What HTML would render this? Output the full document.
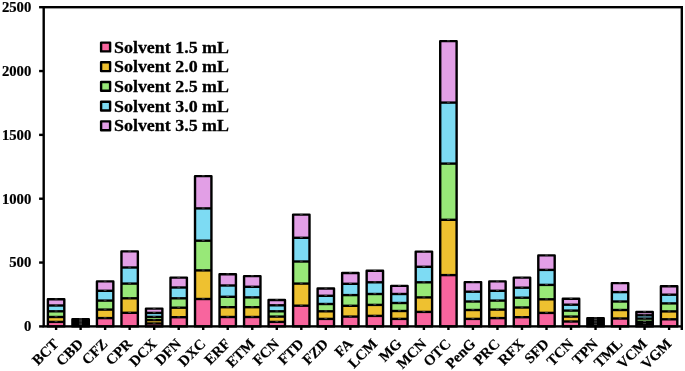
<!DOCTYPE html>
<html><head><meta charset="utf-8"><title>Chart</title>
<style>html,body{margin:0;padding:0;background:#fff}svg{display:block}text{font-family:"Liberation Serif","DejaVu Serif",serif;font-weight:bold;fill:#000}</style></head><body>
<svg width="685" height="371" viewBox="0 0 685 371">
<rect width="685" height="371" fill="#fff"/>
<rect x="47.90" y="299.30" width="16.40" height="6.20" fill="#E29FE6"/>
<rect x="47.90" y="305.50" width="16.40" height="5.80" fill="#7DDBF3"/>
<rect x="47.90" y="311.30" width="16.40" height="5.70" fill="#98E878"/>
<rect x="47.90" y="317.00" width="16.40" height="4.90" fill="#EEC130"/>
<rect x="47.90" y="321.90" width="16.40" height="4.50" fill="#F8659E"/>
<line x1="47.90" x2="64.30" y1="305.50" y2="305.50" stroke="#000" stroke-width="2.4"/>
<line x1="47.90" x2="64.30" y1="311.30" y2="311.30" stroke="#000" stroke-width="2.4"/>
<line x1="47.90" x2="64.30" y1="317.00" y2="317.00" stroke="#000" stroke-width="2.4"/>
<line x1="47.90" x2="64.30" y1="321.90" y2="321.90" stroke="#000" stroke-width="2.4"/>
<rect x="47.90" y="299.30" width="16.40" height="27.10" fill="none" stroke="#000" stroke-width="2.4" stroke-linejoin="round"/>
<line x1="54.70" x2="57.50" y1="299.00" y2="299.00" stroke="#888" stroke-width="0.5"/>
<line x1="54.70" x2="57.50" y1="305.20" y2="305.20" stroke="#888" stroke-width="0.5"/>
<line x1="54.70" x2="57.50" y1="311.00" y2="311.00" stroke="#888" stroke-width="0.5"/>
<line x1="54.70" x2="57.50" y1="316.70" y2="316.70" stroke="#888" stroke-width="0.5"/>
<line x1="54.70" x2="57.50" y1="321.60" y2="321.60" stroke="#888" stroke-width="0.5"/>
<rect x="72.42" y="319.20" width="16.40" height="1.44" fill="#E29FE6"/>
<rect x="72.42" y="320.64" width="16.40" height="1.44" fill="#7DDBF3"/>
<rect x="72.42" y="322.08" width="16.40" height="1.44" fill="#98E878"/>
<rect x="72.42" y="323.52" width="16.40" height="1.44" fill="#EEC130"/>
<rect x="72.42" y="324.96" width="16.40" height="1.44" fill="#F8659E"/>
<line x1="72.42" x2="88.82" y1="320.64" y2="320.64" stroke="#000" stroke-width="2.4"/>
<line x1="72.42" x2="88.82" y1="322.08" y2="322.08" stroke="#000" stroke-width="2.4"/>
<line x1="72.42" x2="88.82" y1="323.52" y2="323.52" stroke="#000" stroke-width="2.4"/>
<line x1="72.42" x2="88.82" y1="324.96" y2="324.96" stroke="#000" stroke-width="2.4"/>
<rect x="72.42" y="319.20" width="16.40" height="7.20" fill="none" stroke="#000" stroke-width="2.4" stroke-linejoin="round"/>
<line x1="79.22" x2="82.02" y1="318.90" y2="318.90" stroke="#888" stroke-width="0.5"/>
<line x1="79.22" x2="82.02" y1="320.34" y2="320.34" stroke="#888" stroke-width="0.5"/>
<line x1="79.22" x2="82.02" y1="321.78" y2="321.78" stroke="#888" stroke-width="0.5"/>
<line x1="79.22" x2="82.02" y1="323.22" y2="323.22" stroke="#888" stroke-width="0.5"/>
<line x1="79.22" x2="82.02" y1="324.66" y2="324.66" stroke="#888" stroke-width="0.5"/>
<rect x="96.94" y="281.40" width="16.40" height="9.40" fill="#E29FE6"/>
<rect x="96.94" y="290.80" width="16.40" height="9.80" fill="#7DDBF3"/>
<rect x="96.94" y="300.60" width="16.40" height="9.00" fill="#98E878"/>
<rect x="96.94" y="309.60" width="16.40" height="8.50" fill="#EEC130"/>
<rect x="96.94" y="318.10" width="16.40" height="8.30" fill="#F8659E"/>
<line x1="96.94" x2="113.34" y1="290.80" y2="290.80" stroke="#000" stroke-width="2.4"/>
<line x1="96.94" x2="113.34" y1="300.60" y2="300.60" stroke="#000" stroke-width="2.4"/>
<line x1="96.94" x2="113.34" y1="309.60" y2="309.60" stroke="#000" stroke-width="2.4"/>
<line x1="96.94" x2="113.34" y1="318.10" y2="318.10" stroke="#000" stroke-width="2.4"/>
<rect x="96.94" y="281.40" width="16.40" height="45.00" fill="none" stroke="#000" stroke-width="2.4" stroke-linejoin="round"/>
<line x1="103.74" x2="106.54" y1="281.10" y2="281.10" stroke="#888" stroke-width="0.5"/>
<line x1="103.74" x2="106.54" y1="290.50" y2="290.50" stroke="#888" stroke-width="0.5"/>
<line x1="103.74" x2="106.54" y1="300.30" y2="300.30" stroke="#888" stroke-width="0.5"/>
<line x1="103.74" x2="106.54" y1="309.30" y2="309.30" stroke="#888" stroke-width="0.5"/>
<line x1="103.74" x2="106.54" y1="317.80" y2="317.80" stroke="#888" stroke-width="0.5"/>
<rect x="121.46" y="251.40" width="16.40" height="16.10" fill="#E29FE6"/>
<rect x="121.46" y="267.50" width="16.40" height="16.10" fill="#7DDBF3"/>
<rect x="121.46" y="283.60" width="16.40" height="14.70" fill="#98E878"/>
<rect x="121.46" y="298.30" width="16.40" height="14.50" fill="#EEC130"/>
<rect x="121.46" y="312.80" width="16.40" height="13.60" fill="#F8659E"/>
<line x1="121.46" x2="137.86" y1="267.50" y2="267.50" stroke="#000" stroke-width="2.4"/>
<line x1="121.46" x2="137.86" y1="283.60" y2="283.60" stroke="#000" stroke-width="2.4"/>
<line x1="121.46" x2="137.86" y1="298.30" y2="298.30" stroke="#000" stroke-width="2.4"/>
<line x1="121.46" x2="137.86" y1="312.80" y2="312.80" stroke="#000" stroke-width="2.4"/>
<rect x="121.46" y="251.40" width="16.40" height="75.00" fill="none" stroke="#000" stroke-width="2.4" stroke-linejoin="round"/>
<line x1="128.26" x2="131.06" y1="251.10" y2="251.10" stroke="#888" stroke-width="0.5"/>
<line x1="128.26" x2="131.06" y1="267.20" y2="267.20" stroke="#888" stroke-width="0.5"/>
<line x1="128.26" x2="131.06" y1="283.30" y2="283.30" stroke="#888" stroke-width="0.5"/>
<line x1="128.26" x2="131.06" y1="298.00" y2="298.00" stroke="#888" stroke-width="0.5"/>
<line x1="128.26" x2="131.06" y1="312.50" y2="312.50" stroke="#888" stroke-width="0.5"/>
<rect x="145.98" y="308.60" width="16.40" height="4.30" fill="#E29FE6"/>
<rect x="145.98" y="312.90" width="16.40" height="4.00" fill="#7DDBF3"/>
<rect x="145.98" y="316.90" width="16.40" height="3.20" fill="#98E878"/>
<rect x="145.98" y="320.10" width="16.40" height="3.40" fill="#EEC130"/>
<rect x="145.98" y="323.50" width="16.40" height="2.90" fill="#F8659E"/>
<line x1="145.98" x2="162.38" y1="312.90" y2="312.90" stroke="#000" stroke-width="2.4"/>
<line x1="145.98" x2="162.38" y1="316.90" y2="316.90" stroke="#000" stroke-width="2.4"/>
<line x1="145.98" x2="162.38" y1="320.10" y2="320.10" stroke="#000" stroke-width="2.4"/>
<line x1="145.98" x2="162.38" y1="323.50" y2="323.50" stroke="#000" stroke-width="2.4"/>
<rect x="145.98" y="308.60" width="16.40" height="17.80" fill="none" stroke="#000" stroke-width="2.4" stroke-linejoin="round"/>
<line x1="152.78" x2="155.58" y1="308.30" y2="308.30" stroke="#888" stroke-width="0.5"/>
<line x1="152.78" x2="155.58" y1="312.60" y2="312.60" stroke="#888" stroke-width="0.5"/>
<line x1="152.78" x2="155.58" y1="316.60" y2="316.60" stroke="#888" stroke-width="0.5"/>
<line x1="152.78" x2="155.58" y1="319.80" y2="319.80" stroke="#888" stroke-width="0.5"/>
<line x1="152.78" x2="155.58" y1="323.20" y2="323.20" stroke="#888" stroke-width="0.5"/>
<rect x="170.50" y="277.60" width="16.40" height="9.90" fill="#E29FE6"/>
<rect x="170.50" y="287.50" width="16.40" height="10.80" fill="#7DDBF3"/>
<rect x="170.50" y="298.30" width="16.40" height="9.40" fill="#98E878"/>
<rect x="170.50" y="307.70" width="16.40" height="9.50" fill="#EEC130"/>
<rect x="170.50" y="317.20" width="16.40" height="9.20" fill="#F8659E"/>
<line x1="170.50" x2="186.90" y1="287.50" y2="287.50" stroke="#000" stroke-width="2.4"/>
<line x1="170.50" x2="186.90" y1="298.30" y2="298.30" stroke="#000" stroke-width="2.4"/>
<line x1="170.50" x2="186.90" y1="307.70" y2="307.70" stroke="#000" stroke-width="2.4"/>
<line x1="170.50" x2="186.90" y1="317.20" y2="317.20" stroke="#000" stroke-width="2.4"/>
<rect x="170.50" y="277.60" width="16.40" height="48.80" fill="none" stroke="#000" stroke-width="2.4" stroke-linejoin="round"/>
<line x1="177.30" x2="180.10" y1="277.30" y2="277.30" stroke="#888" stroke-width="0.5"/>
<line x1="177.30" x2="180.10" y1="287.20" y2="287.20" stroke="#888" stroke-width="0.5"/>
<line x1="177.30" x2="180.10" y1="298.00" y2="298.00" stroke="#888" stroke-width="0.5"/>
<line x1="177.30" x2="180.10" y1="307.40" y2="307.40" stroke="#888" stroke-width="0.5"/>
<line x1="177.30" x2="180.10" y1="316.90" y2="316.90" stroke="#888" stroke-width="0.5"/>
<rect x="195.02" y="176.10" width="16.40" height="32.30" fill="#E29FE6"/>
<rect x="195.02" y="208.40" width="16.40" height="32.30" fill="#7DDBF3"/>
<rect x="195.02" y="240.70" width="16.40" height="29.70" fill="#98E878"/>
<rect x="195.02" y="270.40" width="16.40" height="28.60" fill="#EEC130"/>
<rect x="195.02" y="299.00" width="16.40" height="27.40" fill="#F8659E"/>
<line x1="195.02" x2="211.42" y1="208.40" y2="208.40" stroke="#000" stroke-width="2.4"/>
<line x1="195.02" x2="211.42" y1="240.70" y2="240.70" stroke="#000" stroke-width="2.4"/>
<line x1="195.02" x2="211.42" y1="270.40" y2="270.40" stroke="#000" stroke-width="2.4"/>
<line x1="195.02" x2="211.42" y1="299.00" y2="299.00" stroke="#000" stroke-width="2.4"/>
<rect x="195.02" y="176.10" width="16.40" height="150.30" fill="none" stroke="#000" stroke-width="2.4" stroke-linejoin="round"/>
<line x1="201.82" x2="204.62" y1="175.80" y2="175.80" stroke="#888" stroke-width="0.5"/>
<line x1="201.82" x2="204.62" y1="208.10" y2="208.10" stroke="#888" stroke-width="0.5"/>
<line x1="201.82" x2="204.62" y1="240.40" y2="240.40" stroke="#888" stroke-width="0.5"/>
<line x1="201.82" x2="204.62" y1="270.10" y2="270.10" stroke="#888" stroke-width="0.5"/>
<line x1="201.82" x2="204.62" y1="298.70" y2="298.70" stroke="#888" stroke-width="0.5"/>
<rect x="219.54" y="274.20" width="16.40" height="11.30" fill="#E29FE6"/>
<rect x="219.54" y="285.50" width="16.40" height="11.30" fill="#7DDBF3"/>
<rect x="219.54" y="296.80" width="16.40" height="10.40" fill="#98E878"/>
<rect x="219.54" y="307.20" width="16.40" height="9.80" fill="#EEC130"/>
<rect x="219.54" y="317.00" width="16.40" height="9.40" fill="#F8659E"/>
<line x1="219.54" x2="235.94" y1="285.50" y2="285.50" stroke="#000" stroke-width="2.4"/>
<line x1="219.54" x2="235.94" y1="296.80" y2="296.80" stroke="#000" stroke-width="2.4"/>
<line x1="219.54" x2="235.94" y1="307.20" y2="307.20" stroke="#000" stroke-width="2.4"/>
<line x1="219.54" x2="235.94" y1="317.00" y2="317.00" stroke="#000" stroke-width="2.4"/>
<rect x="219.54" y="274.20" width="16.40" height="52.20" fill="none" stroke="#000" stroke-width="2.4" stroke-linejoin="round"/>
<line x1="226.34" x2="229.14" y1="273.90" y2="273.90" stroke="#888" stroke-width="0.5"/>
<line x1="226.34" x2="229.14" y1="285.20" y2="285.20" stroke="#888" stroke-width="0.5"/>
<line x1="226.34" x2="229.14" y1="296.50" y2="296.50" stroke="#888" stroke-width="0.5"/>
<line x1="226.34" x2="229.14" y1="306.90" y2="306.90" stroke="#888" stroke-width="0.5"/>
<line x1="226.34" x2="229.14" y1="316.70" y2="316.70" stroke="#888" stroke-width="0.5"/>
<rect x="244.06" y="276.10" width="16.40" height="10.70" fill="#E29FE6"/>
<rect x="244.06" y="286.80" width="16.40" height="10.60" fill="#7DDBF3"/>
<rect x="244.06" y="297.40" width="16.40" height="9.80" fill="#98E878"/>
<rect x="244.06" y="307.20" width="16.40" height="9.80" fill="#EEC130"/>
<rect x="244.06" y="317.00" width="16.40" height="9.40" fill="#F8659E"/>
<line x1="244.06" x2="260.46" y1="286.80" y2="286.80" stroke="#000" stroke-width="2.4"/>
<line x1="244.06" x2="260.46" y1="297.40" y2="297.40" stroke="#000" stroke-width="2.4"/>
<line x1="244.06" x2="260.46" y1="307.20" y2="307.20" stroke="#000" stroke-width="2.4"/>
<line x1="244.06" x2="260.46" y1="317.00" y2="317.00" stroke="#000" stroke-width="2.4"/>
<rect x="244.06" y="276.10" width="16.40" height="50.30" fill="none" stroke="#000" stroke-width="2.4" stroke-linejoin="round"/>
<line x1="250.86" x2="253.66" y1="275.80" y2="275.80" stroke="#888" stroke-width="0.5"/>
<line x1="250.86" x2="253.66" y1="286.50" y2="286.50" stroke="#888" stroke-width="0.5"/>
<line x1="250.86" x2="253.66" y1="297.10" y2="297.10" stroke="#888" stroke-width="0.5"/>
<line x1="250.86" x2="253.66" y1="306.90" y2="306.90" stroke="#888" stroke-width="0.5"/>
<line x1="250.86" x2="253.66" y1="316.70" y2="316.70" stroke="#888" stroke-width="0.5"/>
<rect x="268.58" y="300.00" width="16.40" height="5.30" fill="#E29FE6"/>
<rect x="268.58" y="305.30" width="16.40" height="6.00" fill="#7DDBF3"/>
<rect x="268.58" y="311.30" width="16.40" height="5.30" fill="#98E878"/>
<rect x="268.58" y="316.60" width="16.40" height="5.30" fill="#EEC130"/>
<rect x="268.58" y="321.90" width="16.40" height="4.50" fill="#F8659E"/>
<line x1="268.58" x2="284.98" y1="305.30" y2="305.30" stroke="#000" stroke-width="2.4"/>
<line x1="268.58" x2="284.98" y1="311.30" y2="311.30" stroke="#000" stroke-width="2.4"/>
<line x1="268.58" x2="284.98" y1="316.60" y2="316.60" stroke="#000" stroke-width="2.4"/>
<line x1="268.58" x2="284.98" y1="321.90" y2="321.90" stroke="#000" stroke-width="2.4"/>
<rect x="268.58" y="300.00" width="16.40" height="26.40" fill="none" stroke="#000" stroke-width="2.4" stroke-linejoin="round"/>
<line x1="275.38" x2="278.18" y1="299.70" y2="299.70" stroke="#888" stroke-width="0.5"/>
<line x1="275.38" x2="278.18" y1="305.00" y2="305.00" stroke="#888" stroke-width="0.5"/>
<line x1="275.38" x2="278.18" y1="311.00" y2="311.00" stroke="#888" stroke-width="0.5"/>
<line x1="275.38" x2="278.18" y1="316.30" y2="316.30" stroke="#888" stroke-width="0.5"/>
<line x1="275.38" x2="278.18" y1="321.60" y2="321.60" stroke="#888" stroke-width="0.5"/>
<rect x="293.10" y="214.60" width="16.40" height="23.20" fill="#E29FE6"/>
<rect x="293.10" y="237.80" width="16.40" height="23.70" fill="#7DDBF3"/>
<rect x="293.10" y="261.50" width="16.40" height="22.10" fill="#98E878"/>
<rect x="293.10" y="283.60" width="16.40" height="22.10" fill="#EEC130"/>
<rect x="293.10" y="305.70" width="16.40" height="20.70" fill="#F8659E"/>
<line x1="293.10" x2="309.50" y1="237.80" y2="237.80" stroke="#000" stroke-width="2.4"/>
<line x1="293.10" x2="309.50" y1="261.50" y2="261.50" stroke="#000" stroke-width="2.4"/>
<line x1="293.10" x2="309.50" y1="283.60" y2="283.60" stroke="#000" stroke-width="2.4"/>
<line x1="293.10" x2="309.50" y1="305.70" y2="305.70" stroke="#000" stroke-width="2.4"/>
<rect x="293.10" y="214.60" width="16.40" height="111.80" fill="none" stroke="#000" stroke-width="2.4" stroke-linejoin="round"/>
<line x1="299.90" x2="302.70" y1="214.30" y2="214.30" stroke="#888" stroke-width="0.5"/>
<line x1="299.90" x2="302.70" y1="237.50" y2="237.50" stroke="#888" stroke-width="0.5"/>
<line x1="299.90" x2="302.70" y1="261.20" y2="261.20" stroke="#888" stroke-width="0.5"/>
<line x1="299.90" x2="302.70" y1="283.30" y2="283.30" stroke="#888" stroke-width="0.5"/>
<line x1="299.90" x2="302.70" y1="305.40" y2="305.40" stroke="#888" stroke-width="0.5"/>
<rect x="317.62" y="288.50" width="16.40" height="7.30" fill="#E29FE6"/>
<rect x="317.62" y="295.80" width="16.40" height="8.20" fill="#7DDBF3"/>
<rect x="317.62" y="304.00" width="16.40" height="7.30" fill="#98E878"/>
<rect x="317.62" y="311.30" width="16.40" height="7.60" fill="#EEC130"/>
<rect x="317.62" y="318.90" width="16.40" height="7.50" fill="#F8659E"/>
<line x1="317.62" x2="334.02" y1="295.80" y2="295.80" stroke="#000" stroke-width="2.4"/>
<line x1="317.62" x2="334.02" y1="304.00" y2="304.00" stroke="#000" stroke-width="2.4"/>
<line x1="317.62" x2="334.02" y1="311.30" y2="311.30" stroke="#000" stroke-width="2.4"/>
<line x1="317.62" x2="334.02" y1="318.90" y2="318.90" stroke="#000" stroke-width="2.4"/>
<rect x="317.62" y="288.50" width="16.40" height="37.90" fill="none" stroke="#000" stroke-width="2.4" stroke-linejoin="round"/>
<line x1="324.42" x2="327.22" y1="288.20" y2="288.20" stroke="#888" stroke-width="0.5"/>
<line x1="324.42" x2="327.22" y1="295.50" y2="295.50" stroke="#888" stroke-width="0.5"/>
<line x1="324.42" x2="327.22" y1="303.70" y2="303.70" stroke="#888" stroke-width="0.5"/>
<line x1="324.42" x2="327.22" y1="311.00" y2="311.00" stroke="#888" stroke-width="0.5"/>
<line x1="324.42" x2="327.22" y1="318.60" y2="318.60" stroke="#888" stroke-width="0.5"/>
<rect x="342.14" y="273.00" width="16.40" height="10.80" fill="#E29FE6"/>
<rect x="342.14" y="283.80" width="16.40" height="11.30" fill="#7DDBF3"/>
<rect x="342.14" y="295.10" width="16.40" height="10.70" fill="#98E878"/>
<rect x="342.14" y="305.80" width="16.40" height="10.80" fill="#EEC130"/>
<rect x="342.14" y="316.60" width="16.40" height="9.80" fill="#F8659E"/>
<line x1="342.14" x2="358.54" y1="283.80" y2="283.80" stroke="#000" stroke-width="2.4"/>
<line x1="342.14" x2="358.54" y1="295.10" y2="295.10" stroke="#000" stroke-width="2.4"/>
<line x1="342.14" x2="358.54" y1="305.80" y2="305.80" stroke="#000" stroke-width="2.4"/>
<line x1="342.14" x2="358.54" y1="316.60" y2="316.60" stroke="#000" stroke-width="2.4"/>
<rect x="342.14" y="273.00" width="16.40" height="53.40" fill="none" stroke="#000" stroke-width="2.4" stroke-linejoin="round"/>
<line x1="348.94" x2="351.74" y1="272.70" y2="272.70" stroke="#888" stroke-width="0.5"/>
<line x1="348.94" x2="351.74" y1="283.50" y2="283.50" stroke="#888" stroke-width="0.5"/>
<line x1="348.94" x2="351.74" y1="294.80" y2="294.80" stroke="#888" stroke-width="0.5"/>
<line x1="348.94" x2="351.74" y1="305.50" y2="305.50" stroke="#888" stroke-width="0.5"/>
<line x1="348.94" x2="351.74" y1="316.30" y2="316.30" stroke="#888" stroke-width="0.5"/>
<rect x="366.66" y="270.80" width="16.40" height="11.50" fill="#E29FE6"/>
<rect x="366.66" y="282.30" width="16.40" height="11.70" fill="#7DDBF3"/>
<rect x="366.66" y="294.00" width="16.40" height="10.90" fill="#98E878"/>
<rect x="366.66" y="304.90" width="16.40" height="11.00" fill="#EEC130"/>
<rect x="366.66" y="315.90" width="16.40" height="10.50" fill="#F8659E"/>
<line x1="366.66" x2="383.06" y1="282.30" y2="282.30" stroke="#000" stroke-width="2.4"/>
<line x1="366.66" x2="383.06" y1="294.00" y2="294.00" stroke="#000" stroke-width="2.4"/>
<line x1="366.66" x2="383.06" y1="304.90" y2="304.90" stroke="#000" stroke-width="2.4"/>
<line x1="366.66" x2="383.06" y1="315.90" y2="315.90" stroke="#000" stroke-width="2.4"/>
<rect x="366.66" y="270.80" width="16.40" height="55.60" fill="none" stroke="#000" stroke-width="2.4" stroke-linejoin="round"/>
<line x1="373.46" x2="376.26" y1="270.50" y2="270.50" stroke="#888" stroke-width="0.5"/>
<line x1="373.46" x2="376.26" y1="282.00" y2="282.00" stroke="#888" stroke-width="0.5"/>
<line x1="373.46" x2="376.26" y1="293.70" y2="293.70" stroke="#888" stroke-width="0.5"/>
<line x1="373.46" x2="376.26" y1="304.60" y2="304.60" stroke="#888" stroke-width="0.5"/>
<line x1="373.46" x2="376.26" y1="315.60" y2="315.60" stroke="#888" stroke-width="0.5"/>
<rect x="391.18" y="285.90" width="16.40" height="8.10" fill="#E29FE6"/>
<rect x="391.18" y="294.00" width="16.40" height="9.00" fill="#7DDBF3"/>
<rect x="391.18" y="303.00" width="16.40" height="8.00" fill="#98E878"/>
<rect x="391.18" y="311.00" width="16.40" height="7.90" fill="#EEC130"/>
<rect x="391.18" y="318.90" width="16.40" height="7.50" fill="#F8659E"/>
<line x1="391.18" x2="407.58" y1="294.00" y2="294.00" stroke="#000" stroke-width="2.4"/>
<line x1="391.18" x2="407.58" y1="303.00" y2="303.00" stroke="#000" stroke-width="2.4"/>
<line x1="391.18" x2="407.58" y1="311.00" y2="311.00" stroke="#000" stroke-width="2.4"/>
<line x1="391.18" x2="407.58" y1="318.90" y2="318.90" stroke="#000" stroke-width="2.4"/>
<rect x="391.18" y="285.90" width="16.40" height="40.50" fill="none" stroke="#000" stroke-width="2.4" stroke-linejoin="round"/>
<line x1="397.98" x2="400.78" y1="285.60" y2="285.60" stroke="#888" stroke-width="0.5"/>
<line x1="397.98" x2="400.78" y1="293.70" y2="293.70" stroke="#888" stroke-width="0.5"/>
<line x1="397.98" x2="400.78" y1="302.70" y2="302.70" stroke="#888" stroke-width="0.5"/>
<line x1="397.98" x2="400.78" y1="310.70" y2="310.70" stroke="#888" stroke-width="0.5"/>
<line x1="397.98" x2="400.78" y1="318.60" y2="318.60" stroke="#888" stroke-width="0.5"/>
<rect x="415.70" y="251.60" width="16.40" height="15.20" fill="#E29FE6"/>
<rect x="415.70" y="266.80" width="16.40" height="15.50" fill="#7DDBF3"/>
<rect x="415.70" y="282.30" width="16.40" height="15.10" fill="#98E878"/>
<rect x="415.70" y="297.40" width="16.40" height="14.50" fill="#EEC130"/>
<rect x="415.70" y="311.90" width="16.40" height="14.50" fill="#F8659E"/>
<line x1="415.70" x2="432.10" y1="266.80" y2="266.80" stroke="#000" stroke-width="2.4"/>
<line x1="415.70" x2="432.10" y1="282.30" y2="282.30" stroke="#000" stroke-width="2.4"/>
<line x1="415.70" x2="432.10" y1="297.40" y2="297.40" stroke="#000" stroke-width="2.4"/>
<line x1="415.70" x2="432.10" y1="311.90" y2="311.90" stroke="#000" stroke-width="2.4"/>
<rect x="415.70" y="251.60" width="16.40" height="74.80" fill="none" stroke="#000" stroke-width="2.4" stroke-linejoin="round"/>
<line x1="422.50" x2="425.30" y1="251.30" y2="251.30" stroke="#888" stroke-width="0.5"/>
<line x1="422.50" x2="425.30" y1="266.50" y2="266.50" stroke="#888" stroke-width="0.5"/>
<line x1="422.50" x2="425.30" y1="282.00" y2="282.00" stroke="#888" stroke-width="0.5"/>
<line x1="422.50" x2="425.30" y1="297.10" y2="297.10" stroke="#888" stroke-width="0.5"/>
<line x1="422.50" x2="425.30" y1="311.60" y2="311.60" stroke="#888" stroke-width="0.5"/>
<rect x="440.22" y="41.10" width="16.40" height="61.50" fill="#E29FE6"/>
<rect x="440.22" y="102.60" width="16.40" height="61.00" fill="#7DDBF3"/>
<rect x="440.22" y="163.60" width="16.40" height="56.20" fill="#98E878"/>
<rect x="440.22" y="219.80" width="16.40" height="55.30" fill="#EEC130"/>
<rect x="440.22" y="275.10" width="16.40" height="51.30" fill="#F8659E"/>
<line x1="440.22" x2="456.62" y1="102.60" y2="102.60" stroke="#000" stroke-width="2.4"/>
<line x1="440.22" x2="456.62" y1="163.60" y2="163.60" stroke="#000" stroke-width="2.4"/>
<line x1="440.22" x2="456.62" y1="219.80" y2="219.80" stroke="#000" stroke-width="2.4"/>
<line x1="440.22" x2="456.62" y1="275.10" y2="275.10" stroke="#000" stroke-width="2.4"/>
<rect x="440.22" y="41.10" width="16.40" height="285.30" fill="none" stroke="#000" stroke-width="2.4" stroke-linejoin="round"/>
<line x1="447.02" x2="449.82" y1="40.80" y2="40.80" stroke="#888" stroke-width="0.5"/>
<line x1="447.02" x2="449.82" y1="102.30" y2="102.30" stroke="#888" stroke-width="0.5"/>
<line x1="447.02" x2="449.82" y1="163.30" y2="163.30" stroke="#888" stroke-width="0.5"/>
<line x1="447.02" x2="449.82" y1="219.50" y2="219.50" stroke="#888" stroke-width="0.5"/>
<line x1="447.02" x2="449.82" y1="274.80" y2="274.80" stroke="#888" stroke-width="0.5"/>
<rect x="464.74" y="282.10" width="16.40" height="9.60" fill="#E29FE6"/>
<rect x="464.74" y="291.70" width="16.40" height="9.80" fill="#7DDBF3"/>
<rect x="464.74" y="301.50" width="16.40" height="8.50" fill="#98E878"/>
<rect x="464.74" y="310.00" width="16.40" height="8.90" fill="#EEC130"/>
<rect x="464.74" y="318.90" width="16.40" height="7.50" fill="#F8659E"/>
<line x1="464.74" x2="481.14" y1="291.70" y2="291.70" stroke="#000" stroke-width="2.4"/>
<line x1="464.74" x2="481.14" y1="301.50" y2="301.50" stroke="#000" stroke-width="2.4"/>
<line x1="464.74" x2="481.14" y1="310.00" y2="310.00" stroke="#000" stroke-width="2.4"/>
<line x1="464.74" x2="481.14" y1="318.90" y2="318.90" stroke="#000" stroke-width="2.4"/>
<rect x="464.74" y="282.10" width="16.40" height="44.30" fill="none" stroke="#000" stroke-width="2.4" stroke-linejoin="round"/>
<line x1="471.54" x2="474.34" y1="281.80" y2="281.80" stroke="#888" stroke-width="0.5"/>
<line x1="471.54" x2="474.34" y1="291.40" y2="291.40" stroke="#888" stroke-width="0.5"/>
<line x1="471.54" x2="474.34" y1="301.20" y2="301.20" stroke="#888" stroke-width="0.5"/>
<line x1="471.54" x2="474.34" y1="309.70" y2="309.70" stroke="#888" stroke-width="0.5"/>
<line x1="471.54" x2="474.34" y1="318.60" y2="318.60" stroke="#888" stroke-width="0.5"/>
<rect x="489.26" y="281.40" width="16.40" height="9.40" fill="#E29FE6"/>
<rect x="489.26" y="290.80" width="16.40" height="9.80" fill="#7DDBF3"/>
<rect x="489.26" y="300.60" width="16.40" height="9.00" fill="#98E878"/>
<rect x="489.26" y="309.60" width="16.40" height="8.50" fill="#EEC130"/>
<rect x="489.26" y="318.10" width="16.40" height="8.30" fill="#F8659E"/>
<line x1="489.26" x2="505.66" y1="290.80" y2="290.80" stroke="#000" stroke-width="2.4"/>
<line x1="489.26" x2="505.66" y1="300.60" y2="300.60" stroke="#000" stroke-width="2.4"/>
<line x1="489.26" x2="505.66" y1="309.60" y2="309.60" stroke="#000" stroke-width="2.4"/>
<line x1="489.26" x2="505.66" y1="318.10" y2="318.10" stroke="#000" stroke-width="2.4"/>
<rect x="489.26" y="281.40" width="16.40" height="45.00" fill="none" stroke="#000" stroke-width="2.4" stroke-linejoin="round"/>
<line x1="496.06" x2="498.86" y1="281.10" y2="281.10" stroke="#888" stroke-width="0.5"/>
<line x1="496.06" x2="498.86" y1="290.50" y2="290.50" stroke="#888" stroke-width="0.5"/>
<line x1="496.06" x2="498.86" y1="300.30" y2="300.30" stroke="#888" stroke-width="0.5"/>
<line x1="496.06" x2="498.86" y1="309.30" y2="309.30" stroke="#888" stroke-width="0.5"/>
<line x1="496.06" x2="498.86" y1="317.80" y2="317.80" stroke="#888" stroke-width="0.5"/>
<rect x="513.78" y="277.60" width="16.40" height="10.10" fill="#E29FE6"/>
<rect x="513.78" y="287.70" width="16.40" height="10.00" fill="#7DDBF3"/>
<rect x="513.78" y="297.70" width="16.40" height="9.80" fill="#98E878"/>
<rect x="513.78" y="307.50" width="16.40" height="9.70" fill="#EEC130"/>
<rect x="513.78" y="317.20" width="16.40" height="9.20" fill="#F8659E"/>
<line x1="513.78" x2="530.18" y1="287.70" y2="287.70" stroke="#000" stroke-width="2.4"/>
<line x1="513.78" x2="530.18" y1="297.70" y2="297.70" stroke="#000" stroke-width="2.4"/>
<line x1="513.78" x2="530.18" y1="307.50" y2="307.50" stroke="#000" stroke-width="2.4"/>
<line x1="513.78" x2="530.18" y1="317.20" y2="317.20" stroke="#000" stroke-width="2.4"/>
<rect x="513.78" y="277.60" width="16.40" height="48.80" fill="none" stroke="#000" stroke-width="2.4" stroke-linejoin="round"/>
<line x1="520.58" x2="523.38" y1="277.30" y2="277.30" stroke="#888" stroke-width="0.5"/>
<line x1="520.58" x2="523.38" y1="287.40" y2="287.40" stroke="#888" stroke-width="0.5"/>
<line x1="520.58" x2="523.38" y1="297.40" y2="297.40" stroke="#888" stroke-width="0.5"/>
<line x1="520.58" x2="523.38" y1="307.20" y2="307.20" stroke="#888" stroke-width="0.5"/>
<line x1="520.58" x2="523.38" y1="316.90" y2="316.90" stroke="#888" stroke-width="0.5"/>
<rect x="538.30" y="255.40" width="16.40" height="14.50" fill="#E29FE6"/>
<rect x="538.30" y="269.90" width="16.40" height="15.00" fill="#7DDBF3"/>
<rect x="538.30" y="284.90" width="16.40" height="14.40" fill="#98E878"/>
<rect x="538.30" y="299.30" width="16.40" height="13.60" fill="#EEC130"/>
<rect x="538.30" y="312.90" width="16.40" height="13.50" fill="#F8659E"/>
<line x1="538.30" x2="554.70" y1="269.90" y2="269.90" stroke="#000" stroke-width="2.4"/>
<line x1="538.30" x2="554.70" y1="284.90" y2="284.90" stroke="#000" stroke-width="2.4"/>
<line x1="538.30" x2="554.70" y1="299.30" y2="299.30" stroke="#000" stroke-width="2.4"/>
<line x1="538.30" x2="554.70" y1="312.90" y2="312.90" stroke="#000" stroke-width="2.4"/>
<rect x="538.30" y="255.40" width="16.40" height="71.00" fill="none" stroke="#000" stroke-width="2.4" stroke-linejoin="round"/>
<line x1="545.10" x2="547.90" y1="255.10" y2="255.10" stroke="#888" stroke-width="0.5"/>
<line x1="545.10" x2="547.90" y1="269.60" y2="269.60" stroke="#888" stroke-width="0.5"/>
<line x1="545.10" x2="547.90" y1="284.60" y2="284.60" stroke="#888" stroke-width="0.5"/>
<line x1="545.10" x2="547.90" y1="299.00" y2="299.00" stroke="#888" stroke-width="0.5"/>
<line x1="545.10" x2="547.90" y1="312.60" y2="312.60" stroke="#888" stroke-width="0.5"/>
<rect x="562.82" y="298.80" width="16.40" height="5.90" fill="#E29FE6"/>
<rect x="562.82" y="304.70" width="16.40" height="5.90" fill="#7DDBF3"/>
<rect x="562.82" y="310.60" width="16.40" height="6.00" fill="#98E878"/>
<rect x="562.82" y="316.60" width="16.40" height="4.90" fill="#EEC130"/>
<rect x="562.82" y="321.50" width="16.40" height="4.90" fill="#F8659E"/>
<line x1="562.82" x2="579.22" y1="304.70" y2="304.70" stroke="#000" stroke-width="2.4"/>
<line x1="562.82" x2="579.22" y1="310.60" y2="310.60" stroke="#000" stroke-width="2.4"/>
<line x1="562.82" x2="579.22" y1="316.60" y2="316.60" stroke="#000" stroke-width="2.4"/>
<line x1="562.82" x2="579.22" y1="321.50" y2="321.50" stroke="#000" stroke-width="2.4"/>
<rect x="562.82" y="298.80" width="16.40" height="27.60" fill="none" stroke="#000" stroke-width="2.4" stroke-linejoin="round"/>
<line x1="569.62" x2="572.42" y1="298.50" y2="298.50" stroke="#888" stroke-width="0.5"/>
<line x1="569.62" x2="572.42" y1="304.40" y2="304.40" stroke="#888" stroke-width="0.5"/>
<line x1="569.62" x2="572.42" y1="310.30" y2="310.30" stroke="#888" stroke-width="0.5"/>
<line x1="569.62" x2="572.42" y1="316.30" y2="316.30" stroke="#888" stroke-width="0.5"/>
<line x1="569.62" x2="572.42" y1="321.20" y2="321.20" stroke="#888" stroke-width="0.5"/>
<rect x="587.34" y="318.20" width="16.40" height="1.64" fill="#E29FE6"/>
<rect x="587.34" y="319.84" width="16.40" height="1.64" fill="#7DDBF3"/>
<rect x="587.34" y="321.48" width="16.40" height="1.64" fill="#98E878"/>
<rect x="587.34" y="323.12" width="16.40" height="1.64" fill="#EEC130"/>
<rect x="587.34" y="324.76" width="16.40" height="1.64" fill="#F8659E"/>
<line x1="587.34" x2="603.74" y1="319.84" y2="319.84" stroke="#000" stroke-width="2.4"/>
<line x1="587.34" x2="603.74" y1="321.48" y2="321.48" stroke="#000" stroke-width="2.4"/>
<line x1="587.34" x2="603.74" y1="323.12" y2="323.12" stroke="#000" stroke-width="2.4"/>
<line x1="587.34" x2="603.74" y1="324.76" y2="324.76" stroke="#000" stroke-width="2.4"/>
<rect x="587.34" y="318.20" width="16.40" height="8.20" fill="none" stroke="#000" stroke-width="2.4" stroke-linejoin="round"/>
<line x1="594.14" x2="596.94" y1="317.90" y2="317.90" stroke="#888" stroke-width="0.5"/>
<line x1="594.14" x2="596.94" y1="319.54" y2="319.54" stroke="#888" stroke-width="0.5"/>
<line x1="594.14" x2="596.94" y1="321.18" y2="321.18" stroke="#888" stroke-width="0.5"/>
<line x1="594.14" x2="596.94" y1="322.82" y2="322.82" stroke="#888" stroke-width="0.5"/>
<line x1="594.14" x2="596.94" y1="324.46" y2="324.46" stroke="#888" stroke-width="0.5"/>
<rect x="611.86" y="283.10" width="16.40" height="9.00" fill="#E29FE6"/>
<rect x="611.86" y="292.10" width="16.40" height="9.40" fill="#7DDBF3"/>
<rect x="611.86" y="301.50" width="16.40" height="8.50" fill="#98E878"/>
<rect x="611.86" y="310.00" width="16.40" height="8.50" fill="#EEC130"/>
<rect x="611.86" y="318.50" width="16.40" height="7.90" fill="#F8659E"/>
<line x1="611.86" x2="628.26" y1="292.10" y2="292.10" stroke="#000" stroke-width="2.4"/>
<line x1="611.86" x2="628.26" y1="301.50" y2="301.50" stroke="#000" stroke-width="2.4"/>
<line x1="611.86" x2="628.26" y1="310.00" y2="310.00" stroke="#000" stroke-width="2.4"/>
<line x1="611.86" x2="628.26" y1="318.50" y2="318.50" stroke="#000" stroke-width="2.4"/>
<rect x="611.86" y="283.10" width="16.40" height="43.30" fill="none" stroke="#000" stroke-width="2.4" stroke-linejoin="round"/>
<line x1="618.66" x2="621.46" y1="282.80" y2="282.80" stroke="#888" stroke-width="0.5"/>
<line x1="618.66" x2="621.46" y1="291.80" y2="291.80" stroke="#888" stroke-width="0.5"/>
<line x1="618.66" x2="621.46" y1="301.20" y2="301.20" stroke="#888" stroke-width="0.5"/>
<line x1="618.66" x2="621.46" y1="309.70" y2="309.70" stroke="#888" stroke-width="0.5"/>
<line x1="618.66" x2="621.46" y1="318.20" y2="318.20" stroke="#888" stroke-width="0.5"/>
<rect x="636.38" y="312.00" width="16.40" height="3.30" fill="#E29FE6"/>
<rect x="636.38" y="315.30" width="16.40" height="3.30" fill="#7DDBF3"/>
<rect x="636.38" y="318.60" width="16.40" height="3.20" fill="#98E878"/>
<rect x="636.38" y="321.80" width="16.40" height="2.10" fill="#EEC130"/>
<rect x="636.38" y="323.90" width="16.40" height="2.50" fill="#F8659E"/>
<line x1="636.38" x2="652.78" y1="315.30" y2="315.30" stroke="#000" stroke-width="2.4"/>
<line x1="636.38" x2="652.78" y1="318.60" y2="318.60" stroke="#000" stroke-width="2.4"/>
<line x1="636.38" x2="652.78" y1="321.80" y2="321.80" stroke="#000" stroke-width="2.4"/>
<line x1="636.38" x2="652.78" y1="323.90" y2="323.90" stroke="#000" stroke-width="2.4"/>
<rect x="636.38" y="312.00" width="16.40" height="14.40" fill="none" stroke="#000" stroke-width="2.4" stroke-linejoin="round"/>
<line x1="643.18" x2="645.98" y1="311.70" y2="311.70" stroke="#888" stroke-width="0.5"/>
<line x1="643.18" x2="645.98" y1="315.00" y2="315.00" stroke="#888" stroke-width="0.5"/>
<line x1="643.18" x2="645.98" y1="318.30" y2="318.30" stroke="#888" stroke-width="0.5"/>
<line x1="643.18" x2="645.98" y1="321.50" y2="321.50" stroke="#888" stroke-width="0.5"/>
<line x1="643.18" x2="645.98" y1="323.60" y2="323.60" stroke="#888" stroke-width="0.5"/>
<rect x="660.90" y="286.30" width="16.40" height="8.40" fill="#E29FE6"/>
<rect x="660.90" y="294.70" width="16.40" height="8.70" fill="#7DDBF3"/>
<rect x="660.90" y="303.40" width="16.40" height="8.00" fill="#98E878"/>
<rect x="660.90" y="311.40" width="16.40" height="7.90" fill="#EEC130"/>
<rect x="660.90" y="319.30" width="16.40" height="7.10" fill="#F8659E"/>
<line x1="660.90" x2="677.30" y1="294.70" y2="294.70" stroke="#000" stroke-width="2.4"/>
<line x1="660.90" x2="677.30" y1="303.40" y2="303.40" stroke="#000" stroke-width="2.4"/>
<line x1="660.90" x2="677.30" y1="311.40" y2="311.40" stroke="#000" stroke-width="2.4"/>
<line x1="660.90" x2="677.30" y1="319.30" y2="319.30" stroke="#000" stroke-width="2.4"/>
<rect x="660.90" y="286.30" width="16.40" height="40.10" fill="none" stroke="#000" stroke-width="2.4" stroke-linejoin="round"/>
<line x1="667.70" x2="670.50" y1="286.00" y2="286.00" stroke="#888" stroke-width="0.5"/>
<line x1="667.70" x2="670.50" y1="294.40" y2="294.40" stroke="#888" stroke-width="0.5"/>
<line x1="667.70" x2="670.50" y1="303.10" y2="303.10" stroke="#888" stroke-width="0.5"/>
<line x1="667.70" x2="670.50" y1="311.10" y2="311.10" stroke="#888" stroke-width="0.5"/>
<line x1="667.70" x2="670.50" y1="319.00" y2="319.00" stroke="#888" stroke-width="0.5"/>
<rect x="43.7" y="7.2" width="638.10" height="319.20" fill="none" stroke="#000" stroke-width="2.4"/>
<line x1="681.8" x2="681.8" y1="326.4" y2="330.0" stroke="#000" stroke-width="2.4"/>
<line x1="39.1" x2="43.7" y1="326.40" y2="326.40" stroke="#000" stroke-width="2.4"/>
<text x="31.3" y="331.30" font-size="14.7" text-anchor="end" stroke="#000" stroke-width="0.2">0</text>
<line x1="39.1" x2="43.7" y1="262.56" y2="262.56" stroke="#000" stroke-width="2.4"/>
<text x="31.3" y="267.46" font-size="14.7" text-anchor="end" stroke="#000" stroke-width="0.2">500</text>
<line x1="39.1" x2="43.7" y1="198.72" y2="198.72" stroke="#000" stroke-width="2.4"/>
<text x="31.3" y="203.62" font-size="14.7" text-anchor="end" stroke="#000" stroke-width="0.2">1000</text>
<line x1="39.1" x2="43.7" y1="134.88" y2="134.88" stroke="#000" stroke-width="2.4"/>
<text x="31.3" y="139.78" font-size="14.7" text-anchor="end" stroke="#000" stroke-width="0.2">1500</text>
<line x1="39.1" x2="43.7" y1="71.04" y2="71.04" stroke="#000" stroke-width="2.4"/>
<text x="31.3" y="75.94" font-size="14.7" text-anchor="end" stroke="#000" stroke-width="0.2">2000</text>
<line x1="39.1" x2="43.7" y1="7.20" y2="7.20" stroke="#000" stroke-width="2.4"/>
<text x="31.3" y="12.10" font-size="14.7" text-anchor="end" stroke="#000" stroke-width="0.2">2500</text>
<line x1="56.10" x2="56.10" y1="326.4" y2="330.0" stroke="#000" stroke-width="2.4"/>
<text transform="translate(59.40,344.70) rotate(-45)" font-size="14.7" text-anchor="end" stroke="#000" stroke-width="0.2">BCT</text>
<line x1="80.62" x2="80.62" y1="326.4" y2="330.0" stroke="#000" stroke-width="2.4"/>
<text transform="translate(83.92,344.70) rotate(-45)" font-size="14.7" text-anchor="end" stroke="#000" stroke-width="0.2">CBD</text>
<line x1="105.14" x2="105.14" y1="326.4" y2="330.0" stroke="#000" stroke-width="2.4"/>
<text transform="translate(108.44,344.70) rotate(-45)" font-size="14.7" text-anchor="end" stroke="#000" stroke-width="0.2">CFZ</text>
<line x1="129.66" x2="129.66" y1="326.4" y2="330.0" stroke="#000" stroke-width="2.4"/>
<text transform="translate(132.96,344.70) rotate(-45)" font-size="14.7" text-anchor="end" stroke="#000" stroke-width="0.2">CPR</text>
<line x1="154.18" x2="154.18" y1="326.4" y2="330.0" stroke="#000" stroke-width="2.4"/>
<text transform="translate(157.48,344.70) rotate(-45)" font-size="14.7" text-anchor="end" stroke="#000" stroke-width="0.2">DCX</text>
<line x1="178.70" x2="178.70" y1="326.4" y2="330.0" stroke="#000" stroke-width="2.4"/>
<text transform="translate(182.00,344.70) rotate(-45)" font-size="14.7" text-anchor="end" stroke="#000" stroke-width="0.2">DFN</text>
<line x1="203.22" x2="203.22" y1="326.4" y2="330.0" stroke="#000" stroke-width="2.4"/>
<text transform="translate(206.52,344.70) rotate(-45)" font-size="14.7" text-anchor="end" stroke="#000" stroke-width="0.2">DXC</text>
<line x1="227.74" x2="227.74" y1="326.4" y2="330.0" stroke="#000" stroke-width="2.4"/>
<text transform="translate(231.04,344.70) rotate(-45)" font-size="14.7" text-anchor="end" stroke="#000" stroke-width="0.2">ERF</text>
<line x1="252.26" x2="252.26" y1="326.4" y2="330.0" stroke="#000" stroke-width="2.4"/>
<text transform="translate(255.56,344.70) rotate(-45)" font-size="14.7" text-anchor="end" stroke="#000" stroke-width="0.2">ETM</text>
<line x1="276.78" x2="276.78" y1="326.4" y2="330.0" stroke="#000" stroke-width="2.4"/>
<text transform="translate(280.08,344.70) rotate(-45)" font-size="14.7" text-anchor="end" stroke="#000" stroke-width="0.2">FCN</text>
<line x1="301.30" x2="301.30" y1="326.4" y2="330.0" stroke="#000" stroke-width="2.4"/>
<text transform="translate(304.60,344.70) rotate(-45)" font-size="14.7" text-anchor="end" stroke="#000" stroke-width="0.2">FTD</text>
<line x1="325.82" x2="325.82" y1="326.4" y2="330.0" stroke="#000" stroke-width="2.4"/>
<text transform="translate(329.12,344.70) rotate(-45)" font-size="14.7" text-anchor="end" stroke="#000" stroke-width="0.2">FZD</text>
<line x1="350.34" x2="350.34" y1="326.4" y2="330.0" stroke="#000" stroke-width="2.4"/>
<text transform="translate(353.64,344.70) rotate(-45)" font-size="14.7" text-anchor="end" stroke="#000" stroke-width="0.2">FA</text>
<line x1="374.86" x2="374.86" y1="326.4" y2="330.0" stroke="#000" stroke-width="2.4"/>
<text transform="translate(378.16,344.70) rotate(-45)" font-size="14.7" text-anchor="end" stroke="#000" stroke-width="0.2">LCM</text>
<line x1="399.38" x2="399.38" y1="326.4" y2="330.0" stroke="#000" stroke-width="2.4"/>
<text transform="translate(402.68,344.70) rotate(-45)" font-size="14.7" text-anchor="end" stroke="#000" stroke-width="0.2">MG</text>
<line x1="423.90" x2="423.90" y1="326.4" y2="330.0" stroke="#000" stroke-width="2.4"/>
<text transform="translate(427.20,344.70) rotate(-45)" font-size="14.7" text-anchor="end" stroke="#000" stroke-width="0.2">MCN</text>
<line x1="448.42" x2="448.42" y1="326.4" y2="330.0" stroke="#000" stroke-width="2.4"/>
<text transform="translate(451.72,344.70) rotate(-45)" font-size="14.7" text-anchor="end" stroke="#000" stroke-width="0.2">OTC</text>
<line x1="472.94" x2="472.94" y1="326.4" y2="330.0" stroke="#000" stroke-width="2.4"/>
<text transform="translate(476.24,344.70) rotate(-45)" font-size="14.7" text-anchor="end" stroke="#000" stroke-width="0.2">PenG</text>
<line x1="497.46" x2="497.46" y1="326.4" y2="330.0" stroke="#000" stroke-width="2.4"/>
<text transform="translate(500.76,344.70) rotate(-45)" font-size="14.7" text-anchor="end" stroke="#000" stroke-width="0.2">PRC</text>
<line x1="521.98" x2="521.98" y1="326.4" y2="330.0" stroke="#000" stroke-width="2.4"/>
<text transform="translate(525.28,344.70) rotate(-45)" font-size="14.7" text-anchor="end" stroke="#000" stroke-width="0.2">RFX</text>
<line x1="546.50" x2="546.50" y1="326.4" y2="330.0" stroke="#000" stroke-width="2.4"/>
<text transform="translate(549.80,344.70) rotate(-45)" font-size="14.7" text-anchor="end" stroke="#000" stroke-width="0.2">SFD</text>
<line x1="571.02" x2="571.02" y1="326.4" y2="330.0" stroke="#000" stroke-width="2.4"/>
<text transform="translate(574.32,344.70) rotate(-45)" font-size="14.7" text-anchor="end" stroke="#000" stroke-width="0.2">TCN</text>
<line x1="595.54" x2="595.54" y1="326.4" y2="330.0" stroke="#000" stroke-width="2.4"/>
<text transform="translate(598.84,344.70) rotate(-45)" font-size="14.7" text-anchor="end" stroke="#000" stroke-width="0.2">TPN</text>
<line x1="620.06" x2="620.06" y1="326.4" y2="330.0" stroke="#000" stroke-width="2.4"/>
<text transform="translate(623.36,344.70) rotate(-45)" font-size="14.7" text-anchor="end" stroke="#000" stroke-width="0.2">TML</text>
<line x1="644.58" x2="644.58" y1="326.4" y2="330.0" stroke="#000" stroke-width="2.4"/>
<text transform="translate(647.88,344.70) rotate(-45)" font-size="14.7" text-anchor="end" stroke="#000" stroke-width="0.2">VCM</text>
<line x1="669.10" x2="669.10" y1="326.4" y2="330.0" stroke="#000" stroke-width="2.4"/>
<text transform="translate(672.40,344.70) rotate(-45)" font-size="14.7" text-anchor="end" stroke="#000" stroke-width="0.2">VGM</text>
<rect x="101.1" y="42.60" width="9.0" height="8.8" fill="#F8659E" stroke="#000" stroke-width="2.4" stroke-linejoin="round"/>
<text transform="translate(114,52.60) scale(1.03,1)" font-size="17.4" stroke="#000" stroke-width="0.3">Solvent 1.5 mL</text>
<rect x="101.1" y="62.30" width="9.0" height="8.8" fill="#EEC130" stroke="#000" stroke-width="2.4" stroke-linejoin="round"/>
<text transform="translate(114,72.30) scale(1.03,1)" font-size="17.4" stroke="#000" stroke-width="0.3">Solvent 2.0 mL</text>
<rect x="101.1" y="82.00" width="9.0" height="8.8" fill="#98E878" stroke="#000" stroke-width="2.4" stroke-linejoin="round"/>
<text transform="translate(114,92.00) scale(1.03,1)" font-size="17.4" stroke="#000" stroke-width="0.3">Solvent 2.5 mL</text>
<rect x="101.1" y="101.70" width="9.0" height="8.8" fill="#7DDBF3" stroke="#000" stroke-width="2.4" stroke-linejoin="round"/>
<text transform="translate(114,111.70) scale(1.03,1)" font-size="17.4" stroke="#000" stroke-width="0.3">Solvent 3.0 mL</text>
<rect x="101.1" y="121.40" width="9.0" height="8.8" fill="#E29FE6" stroke="#000" stroke-width="2.4" stroke-linejoin="round"/>
<text transform="translate(114,131.40) scale(1.03,1)" font-size="17.4" stroke="#000" stroke-width="0.3">Solvent 3.5 mL</text>
</svg></body></html>
